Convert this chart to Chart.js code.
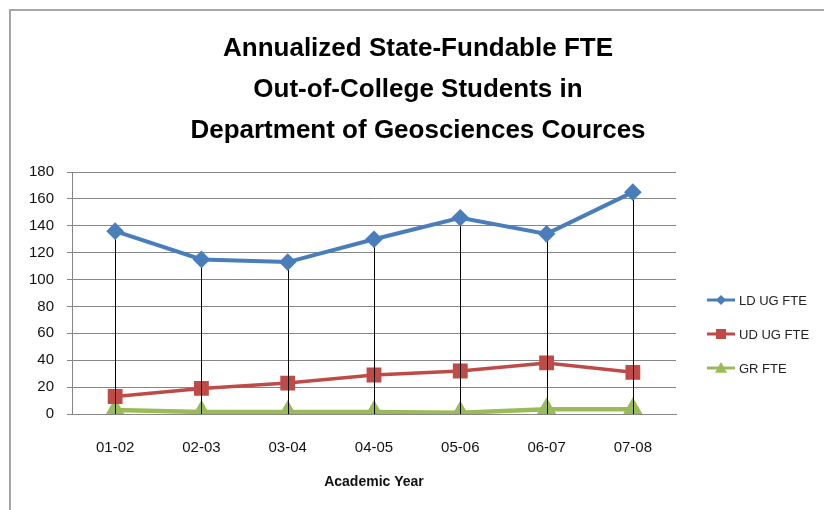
<!DOCTYPE html>
<html>
<head>
<meta charset="utf-8">
<script src="https://cdn.jsdelivr.net/npm/chart.js@4/dist/chart.umd.min.js"></script>
<style>
  html, body { margin: 0; padding: 0; background: #fff; }
  canvas { display: block; }
</style>
</head>
<body>
<canvas id="fte-chart" width="824" height="510"></canvas>
<script>
const years = ["01-02", "02-03", "03-04", "04-05", "05-06", "06-07", "07-08"]
const ldUgFte = [136, 115, 113, 130, 146, 134, 165]
const udUgFte = [13, 19, 23, 29, 32, 38, 31]
const grFte = [3, 1.5, 1.5, 1.5, 1, 3.5, 3.5]
const yTicks = [0, 20, 40, 60, 80, 100, 120, 140, 160, 180]

const FONT = "'Liberation Sans', Arial, sans-serif"

// gray frame on top and left, like the cropped Excel chart
const framePlugin = {
  id: "frame",
  beforeDraw(chart) {
    const ctx = chart.ctx
    ctx.save()
    ctx.fillStyle = "#fff"
    ctx.fillRect(0, 0, chart.width, chart.height)
    ctx.fillStyle = "#a6a6a6"
    ctx.fillRect(9, 9, chart.width - 9, 2)
    ctx.fillRect(9, 9, 2, chart.height - 9)
    ctx.restore()
  }
}

// black drop lines from the highest point down to the axis
const dropLines = {
  id: "dropLines",
  afterDatasetDraw(chart, args) {
    if (args.index !== 1) return
    const { ctx, scales } = chart
    ctx.save()
    ctx.strokeStyle = "#000"
    ctx.lineWidth = 1
    years.forEach((_, i) => {
      const top = Math.max(...chart.data.datasets.map(ds => ds.data[i]))
      const x = Math.round(scales.x.getPixelForValue(i)) + 0.5
      ctx.beginPath()
      ctx.moveTo(x, scales.y.getPixelForValue(top))
      ctx.lineTo(x, scales.y.getPixelForValue(0))
      ctx.stroke()
    })
    ctx.restore()
  }
}

function marker(ctx, style, x, y, r) {
  ctx.beginPath()
  if (style === "rectRot") {
    ctx.moveTo(x, y - r); ctx.lineTo(x + r, y); ctx.lineTo(x, y + r); ctx.lineTo(x - r, y)
  } else if (style === "rect") {
    ctx.rect(x - r, y - r, 2 * r, 2 * r)
  } else {
    ctx.moveTo(x, y - r); ctx.lineTo(x + r, y + r * 0.8); ctx.lineTo(x - r, y + r * 0.8)
  }
  ctx.closePath()
  ctx.fill()
}

// legend with line + marker samples
const lineLegend = {
  id: "lineLegend",
  afterDraw(chart) {
    const ctx = chart.ctx
    const x0 = 707, x1 = 735
    const ys = [300, 334, 368]
    const sizes = [5, 5, 6]
    ctx.save()
    chart.data.datasets.forEach((ds, i) => {
      const y = ys[i]
      ctx.strokeStyle = ds.borderColor
      ctx.fillStyle = ds.borderColor
      ctx.lineWidth = 3
      ctx.beginPath()
      ctx.moveTo(x0, y)
      ctx.lineTo(x1, y)
      ctx.stroke()
      marker(ctx, ds.pointStyle, (x0 + x1) / 2, y, sizes[i])
      ctx.fillStyle = "#222"
      ctx.font = "13px " + FONT
      ctx.textBaseline = "middle"
      ctx.fillText(ds.label, x1 + 4, y + 1)
    })
    ctx.restore()
  }
}

new Chart(document.getElementById("fte-chart"), {
  type: "line",
  data: {
    labels: years,
    datasets: [
      {
        label: "LD UG FTE",
        data: ldUgFte,
        borderColor: "#4a7ebb",
        backgroundColor: "#4a7ebb",
        borderWidth: 4,
        pointStyle: "rectRot",
        pointRadius: 6,
        tension: 0
      },
      {
        label: "UD UG FTE",
        data: udUgFte,
        borderColor: "#be4b48",
        backgroundColor: "#be4b48",
        borderWidth: 3.5,
        pointStyle: "rect",
        pointRadius: 8,
        tension: 0
      },
      {
        label: "GR FTE",
        data: grFte,
        borderColor: "#9bbb59",
        backgroundColor: "#9bbb59",
        borderWidth: 4.5,
        pointStyle: "triangle",
        pointRadius: 7.5,
        tension: 0
      }
    ]
  },
  options: {
    responsive: false,
    animation: false,
    devicePixelRatio: 1,
    layout: { padding: { top: 10, left: 12, right: 0, bottom: 0 } },
    plugins: {
      legend: { display: false },
      tooltip: { enabled: false },
      title: {
        display: true,
        text: [
          "Annualized State-Fundable FTE",
          "Out-of-College Students in",
          "Department of Geosciences Cources"
        ],
        color: "#000",
        font: { family: FONT, size: 26, weight: "bold", lineHeight: 41 / 26 },
        padding: { top: 18, bottom: 21 }
      }
    },
    scales: {
      x: {
        offset: true,
        grid: { display: false, drawTicks: false },
        border: { display: true, color: "#868686", width: 1 },
        ticks: { color: "#111", font: { family: FONT, size: 15 }, padding: 25 },
        title: {
          display: true,
          text: "Academic Year",
          color: "#111",
          font: { family: FONT, size: 14, weight: "bold" },
          padding: { top: 0, bottom: 19 }
        },
        afterFit(scale) { scale.height = 96 }
      },
      y: {
        min: 0,
        max: 180,
        afterBuildTicks(scale) { scale.ticks = yTicks.map(v => ({ value: v })) },
        grid: { color: "#868686", lineWidth: 1, tickLength: 5 },
        border: { display: true, color: "#868686", width: 1 },
        ticks: { color: "#111", font: { family: FONT, size: 15 }, padding: 13 },
        afterFit(scale) { scale.width = 60 }
      },
      // empty right-hand band that holds the legend, keeps the title centred on the page
      legendSpace: {
        type: "linear",
        position: "right",
        grid: { display: false },
        border: { display: false },
        ticks: { display: false },
        afterFit(scale) { scale.width = 148 }
      }
    }
  },
  plugins: [framePlugin, dropLines, lineLegend]
})
</script>
</body>
</html>
